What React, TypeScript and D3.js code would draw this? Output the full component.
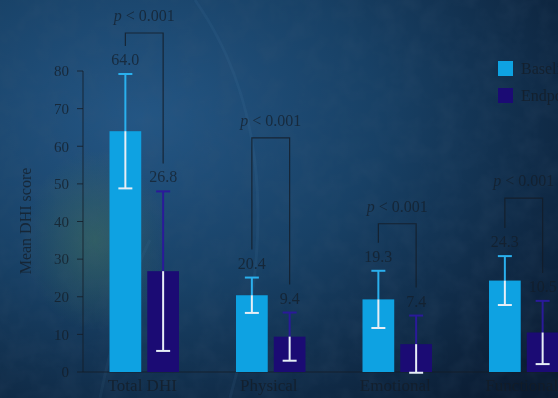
import React from "react";
import * as d3 from "d3";

const categories = ["Total DHI", "Physical", "Emotional", "Functional"];
const seriesNames = ["Baseline", "Endpoint"];
const baselineMean = [64.0, 20.4, 19.3, 24.3];
const baselineSD = [15.2, 4.7, 7.6, 6.5];
const endpointMean = [26.8, 9.4, 7.4, 10.5];
const endpointSD = [21.2, 6.4, 7.6, 8.4];
const bracketLevel = [90.1, 62.2, 39.4, 46.2];
const pLabels = ["p < 0.001", "p < 0.001", "p < 0.001", "p < 0.001"];
const yTicks = [0, 10, 20, 30, 40, 50, 60, 70, 80];

const W = 558;
const H = 398;
const colors = ["#0ea2e2", "#1b0b74"];
const errColors = ["#2ab0ee", "#2a1a9a"];
const textColor = "#141c26";
const FONT = "'Liberation Serif', 'DejaVu Serif', serif";

export default function App() {
  const y = d3.scaleLinear().domain([0, 80]).range([372, 71]);
  const x = d3.scaleBand().domain(categories).range([81, 587]).padding(0);
  const xSub = d3.scaleBand().domain(seriesNames).range([28.5, 98]).paddingInner(0.16);
  const axisX = 83;
  const means = [baselineMean, endpointMean];
  const sds = [baselineSD, endpointSD];

  return (
    <div style={{ position: "fixed", left: 0, top: 0, width: W, height: H, overflow: "hidden" }}>
      <svg width={W} height={H} style={{ display: "block" }} fontFamily={FONT}>
        <defs>
          <radialGradient id="bg" cx="0.25" cy="0.3" r="0.95">
            <stop offset="0" stopColor="#245684" />
            <stop offset="0.45" stopColor="#184166" />
            <stop offset="1" stopColor="#0a1b31" />
          </radialGradient>
          <radialGradient id="green" cx="0.5" cy="0.5" r="0.5">
            <stop offset="0" stopColor="#4c7a5a" stopOpacity="0.45" />
            <stop offset="1" stopColor="#4c7a5a" stopOpacity="0" />
          </radialGradient>
          <filter id="noise" x="0" y="0" width="100%" height="100%">
            <feTurbulence type="fractalNoise" baseFrequency="0.05" numOctaves="3" seed="4" />
            <feColorMatrix type="matrix" values="0 0 0 0 0.05  0 0 0 0 0.1  0 0 0 0 0.18  0 0 0 0.9 -0.3" />
          </filter>
        </defs>
        <rect x={0} y={0} width={W} height={H} fill="url(#bg)" />
        <ellipse cx={95} cy={240} rx={70} ry={90} fill="url(#green)" />
        <rect x={0} y={0} width={W} height={H} filter="url(#noise)" opacity={0.3} />
        <path d="M 195 0 Q 300 150 230 398" fill="none" stroke="#5d8fb8" strokeOpacity={0.09} strokeWidth={3} />
        <path d="M 100 398 Q 120 300 150 240" fill="none" stroke="#5d8fb8" strokeOpacity={0.08} strokeWidth={3} />

        {/* axes */}
        <line x1={axisX} x2={axisX} y1={y(80)} y2={y(0)} stroke={textColor} strokeOpacity={0.8} strokeWidth={1} />
        <line x1={axisX} x2={W} y1={y(0)} y2={y(0)} stroke={textColor} strokeOpacity={0.8} strokeWidth={1} />
        {yTicks.map((t) => (
          <g key={t}>
            <line x1={axisX - 6} x2={axisX} y1={y(t)} y2={y(t)} stroke={textColor} strokeOpacity={0.8} />
            <text x={axisX - 14} y={y(t)} dy="0.35em" textAnchor="end" fontSize={15} fill={textColor} fillOpacity={0.75}>
              {t}
            </text>
          </g>
        ))}
        <text
          transform={`translate(25,221) rotate(-90)`}
          textAnchor="middle"
          dy="0.35em"
          fontSize={16}
          fill={textColor}
          fillOpacity={0.75}
        >
          Mean DHI score
        </text>

        {/* bars */}
        {categories.map((c, i) => {
          const x0 = x(c) as number;
          const cx = seriesNames.map((s) => x0 + (xSub(s) as number) + xSub.bandwidth() / 2);
          const tops = seriesNames.map((_, k) => y(means[k][i] + sds[k][i]));
          const legEnd = tops.map((t) => t - 28);
          const by = y(bracketLevel[i]);
          return (
            <g key={c}>
              {seriesNames.map((s, k) => {
                const m = means[k][i];
                const sd = sds[k][i];
                const bx = x0 + (xSub(s) as number);
                const hi = y(m + sd);
                const lo = y(m - sd);
                const top = y(m);
                return (
                  <g key={s}>
                    <rect x={bx} y={top} width={xSub.bandwidth()} height={y(0) - top} fill={colors[k]} />
                    <line x1={cx[k]} x2={cx[k]} y1={hi} y2={top} stroke={errColors[k]} strokeWidth={2} />
                    <line x1={cx[k] - 7} x2={cx[k] + 7} y1={hi} y2={hi} stroke={errColors[k]} strokeWidth={2} />
                    <line x1={cx[k]} x2={cx[k]} y1={top} y2={lo} stroke="#e6eef6" strokeWidth={2} />
                    <line x1={cx[k] - 7} x2={cx[k] + 7} y1={lo} y2={lo} stroke="#e6eef6" strokeWidth={2} />
                    <text x={cx[k]} y={hi - 9} textAnchor="middle" fontSize={16} fill={textColor} fillOpacity={0.7}>
                      {m.toFixed(1)}
                    </text>
                  </g>
                );
              })}
              <path
                d={`M${cx[0]},${legEnd[0]} V${by} H${cx[1]} V${legEnd[1]}`}
                fill="none"
                stroke={textColor}
                strokeOpacity={0.8}
                strokeWidth={1.2}
              />
              <text
                x={(cx[0] + cx[1]) / 2}
                y={by - 12}
                textAnchor="middle"
                fontSize={16}
                fill={textColor}
                fillOpacity={0.7}
              >
                <tspan fontStyle="italic">p</tspan>
                {pLabels[i].slice(1)}
              </text>
              <text x={x0 + x.bandwidth() / 2 - 2} y={391} textAnchor="middle" fontSize={17} fill={textColor} fillOpacity={0.75}>
                {c}
              </text>
            </g>
          );
        })}

        {/* legend */}
        {seriesNames.map((s, k) => (
          <g key={s} transform={`translate(498,${61 + k * 27})`}>
            <rect width={15} height={15} fill={colors[k]} />
            <text x={23} y={7.5} dy="0.35em" fontSize={16} fill={textColor} fillOpacity={0.75}>
              {s}
            </text>
          </g>
        ))}
      </svg>
    </div>
  );
}
